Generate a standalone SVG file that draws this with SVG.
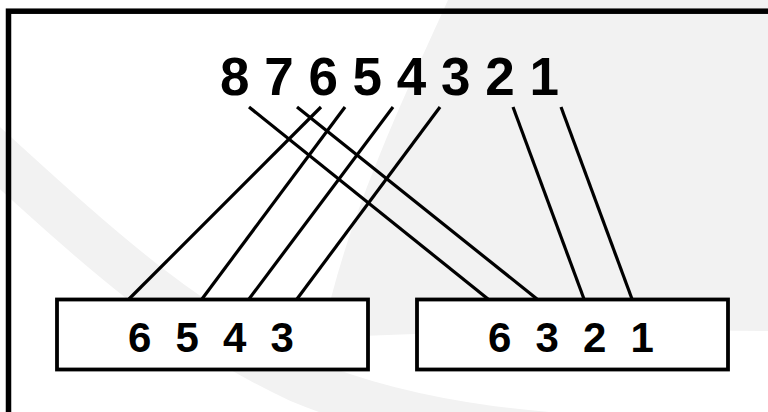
<svg xmlns="http://www.w3.org/2000/svg" width="768" height="412" viewBox="0 0 768 412">
<style>
.wm{fill:#f2f2f2}
.frame{fill:none;stroke:#000;stroke-width:5.5}
.box{fill:#fff;stroke:#000;stroke-width:3.8}
.big{font-family:"Liberation Sans",Arial,sans-serif;font-weight:bold;font-size:53px;fill:#000}
.lbl{font-family:"Liberation Sans",Arial,sans-serif;font-weight:bold;font-size:42px;fill:#000;letter-spacing:6.25px}
.conn line{stroke:#000;stroke-width:3.2;stroke-linecap:butt}
</style>
<rect width="768" height="412" fill="#fff"/>
<g id="watermark">
<path class="wm" d="M448,0 C405,95 345,220 322,338 C460,331 610,329 768,331 L768,0 Z"/>
<path d="M-20,140 C90,240 180,325 300,380 C420,430 560,440 680,440" fill="none" stroke="#f2f2f2" stroke-width="46"/>
</g>
<rect class="frame" x="8.5" y="11.2" width="800" height="500"/>
<g id="connectors" class="conn">
<line x1="249" y1="107" x2="488" y2="299"/>
<line x1="297" y1="107" x2="537" y2="299"/>
<line x1="321" y1="107" x2="129" y2="299"/>
<line x1="345" y1="107" x2="202" y2="299"/>
<line x1="393" y1="107" x2="249" y2="299"/>
<line x1="440" y1="107" x2="297" y2="299"/>
<line x1="513" y1="107" x2="584" y2="299"/>
<line x1="561" y1="107" x2="632" y2="299"/>
</g>
<g id="source">
<text class="big" x="220" y="95">8 7 6 5 4 3 2 1</text>
</g>
<g id="box-left">
<rect class="box" x="57" y="299.5" width="311" height="70"/>
<text class="lbl" x="128" y="352">6 5 4 3</text>
</g>
<g id="box-right">
<rect class="box" x="417" y="299.5" width="311" height="70"/>
<text class="lbl" x="488" y="352">6 3 2 1</text>
</g>
</svg>
